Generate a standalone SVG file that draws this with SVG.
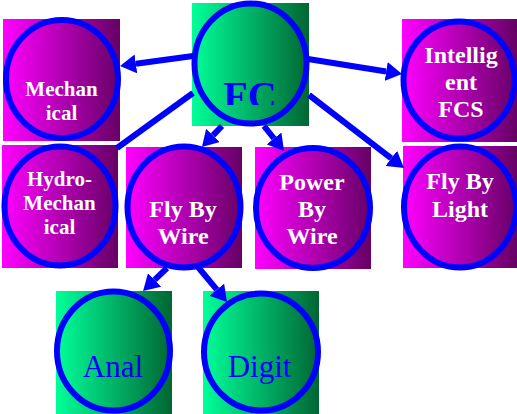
<svg xmlns="http://www.w3.org/2000/svg" width="517" height="414" viewBox="0 0 517 414">
<defs>
<linearGradient id="gm" x1="0" y1="0" x2="1" y2="0">
<stop offset="0" stop-color="#FF00FF"/>
<stop offset="1" stop-color="#660066"/>
</linearGradient>
<linearGradient id="gg" x1="0" y1="0" x2="1" y2="0">
<stop offset="0" stop-color="#00FF99"/>
<stop offset="1" stop-color="#006633"/>
</linearGradient>
<marker id="ah" markerUnits="userSpaceOnUse" markerWidth="16" markerHeight="19" refX="0" refY="9.5" orient="auto">
<path d="M0,0 L16,9.5 L0,19 z" fill="#0000FF"/>
</marker>
<clipPath id="fcclip"><rect x="192" y="3" width="117" height="102"/></clipPath>
</defs>
<style>
.m{fill:url(#gm)}
.g{fill:url(#gg)}
.c{fill:none;stroke:#0000FF;stroke-width:6}
.w{font-family:"Liberation Serif","Times New Roman",serif;font-weight:bold;fill:#FFFFFF;text-anchor:middle}
.s{font-size:21px}
.l{font-size:24px}
.b{font-family:"Liberation Serif","Times New Roman",serif;fill:#0000FF;text-anchor:middle;font-size:31px}
.k{stroke:#0000FF;stroke-width:6;fill:none}
.a{marker-end:url(#ah)}
</style>
<g id="node-fc">
<rect class="g" x="192" y="3" width="117" height="123"/>
<ellipse class="c" cx="250.5" cy="63.5" rx="56" ry="60"/>
<text clip-path="url(#fcclip)" x="250" y="108.5" font-family="Liberation Serif, Times New Roman, serif" font-weight="bold" font-size="40" fill="#0000FF" text-anchor="middle">FC</text>
</g>
<g id="node-mechanical">
<rect class="m" x="3" y="19" width="117" height="122"/>
<ellipse class="c" cx="62" cy="79" rx="56" ry="59"/>
<text class="w s" x="61.5" y="96">Mechan</text>
<text class="w s" x="61.5" y="120">ical</text>
</g>
<g id="node-intelligent">
<rect class="m" x="402" y="19" width="115" height="123"/>
<ellipse class="c" cx="459" cy="80" rx="55.5" ry="58.5"/>
<text class="w l" x="461" y="63">Intellig</text>
<text class="w l" x="461" y="89.5">ent</text>
<text class="w l" x="461" y="116.5">FCS</text>
</g>
<g id="node-hydro">
<rect class="m" x="2" y="145" width="116" height="123"/>
<ellipse class="c" cx="60" cy="206" rx="55.5" ry="59.5"/>
<text class="w s" x="59.5" y="186">Hydro-</text>
<text class="w s" x="59.5" y="209.5">Mechan</text>
<text class="w s" x="59.5" y="234">ical</text>
</g>
<g id="node-fbw">
<rect class="m" x="126" y="147" width="116" height="121"/>
<ellipse class="c" cx="184" cy="207" rx="56.5" ry="60.5"/>
<text class="w l" x="183" y="217">Fly By</text>
<text class="w l" x="183" y="244">Wire</text>
</g>
<g id="node-pbw">
<rect class="m" x="255" y="147" width="116" height="122"/>
<ellipse class="c" cx="313" cy="208" rx="57" ry="60"/>
<text class="w l" x="312" y="190">Power</text>
<text class="w l" x="312" y="217">By</text>
<text class="w l" x="312" y="244">Wire</text>
</g>
<g id="node-fbl">
<rect class="m" x="403" y="146" width="114" height="122"/>
<ellipse class="c" cx="460" cy="207" rx="56" ry="60.5"/>
<text class="w l" x="460" y="189">Fly By</text>
<text class="w l" x="460" y="216.5">Light</text>
</g>
<g id="node-anal">
<rect class="g" x="56" y="291" width="116" height="123"/>
<ellipse class="c" cx="113.5" cy="351" rx="56.5" ry="59.5"/>
<text class="b" x="113" y="377">Anal</text>
</g>
<g id="node-digit">
<rect class="g" x="203" y="291" width="116" height="123"/>
<ellipse class="c" cx="261" cy="352" rx="57" ry="58.5"/>
<text class="b" x="259.5" y="377">Digit</text>
</g>
<g id="connectors">
<line class="k a" x1="193" y1="56" x2="135.9" y2="63.8"/>
<line class="k a" x1="308" y1="59" x2="386.2" y2="71.5"/>
<line class="k" x1="193" y1="93" x2="117" y2="148"/>
<line class="k a" x1="222" y1="126" x2="213" y2="135.4"/>
<line class="k a" x1="264" y1="126" x2="274" y2="138.5"/>
<line class="k a" x1="309" y1="95" x2="391.3" y2="158.3"/>
<line class="k a" x1="167" y1="268" x2="154.6" y2="279.9"/>
<line class="k a" x1="198" y1="267" x2="216.8" y2="289.7"/>
</g>
</svg>
